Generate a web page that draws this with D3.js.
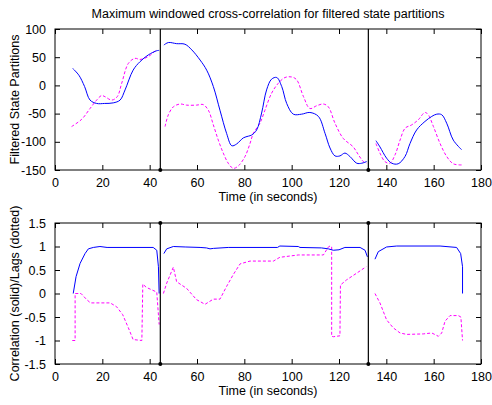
<!DOCTYPE html>
<html><head><meta charset="utf-8">
<script src="https://cdn.jsdelivr.net/npm/d3@7"></script>
<style>body{margin:0;background:#fff}svg{display:block}text{font-family:"Liberation Sans",Arial,sans-serif;font-size:12.5px;fill:#000}</style>
</head><body><svg id="c" width="492" height="405"></svg>
<script>
const title = "Maximum windowed cross-correlation for filtered state partitions";
const xLabel = "Time (in seconds)";
const yLabelTop = "Filtered State Partitions";
const yLabelBottom = "Correlation (solid)/Lags (dotted)";
const xTicks = [0,20,40,60,80,100,120,140,160,180];
const yTicksTop = [-150,-100,-50,0,50,100];
const yTicksBottom = [-1.5,-1,-0.5,0,0.5,1,1.5];
const boundaries = [44.5, 132.4];

// Top panel: filtered state partitions (solid = blue, dashed = magenta)
const topBlue = [
 [[7.5,30],[10.1,18],[12.5,-2],[14.8,-26],[17.6,-32],[21,-32],[24.6,-31],[27.5,-26],[29.6,-8],[33,27],[35.9,42],[39.4,54],[43,61.5],[44,62]],
 [[46,71.6],[47.9,76],[51.4,74],[54.9,73],[57.8,63],[61.3,45],[64.1,27],[66.9,-2],[69.7,-44],[72.5,-85],[74.7,-107],[76.7,-104],[79.6,-93],[81.7,-90],[83.1,-88],[85.2,-79],[87.3,-49],[89.4,-8],[91.5,11],[93.7,14],[95.8,-2],[97.9,-32],[100.7,-51],[104.2,-51],[107.7,-48],[111.3,-55],[114.1,-85],[116.2,-111],[118.3,-125],[120.4,-125],[122.5,-120],[124.6,-126],[127.5,-138],[129.6,-138],[131.7,-135]],
 [[135.6,-98],[137.3,-109],[140.1,-129],[142.3,-138],[145,-139],[147.9,-126],[150,-103],[152.8,-79],[156.3,-64],[159.2,-55],[161.3,-51],[163.4,-52],[165.5,-67],[168.3,-97],[171.8,-114]]
];
const topMagenta = [
 [[7,-73],[11.3,-60],[14.8,-41],[17.6,-26],[19.7,-18],[21.1,-20],[24,-26],[26.3,-20],[28.2,4],[31,39],[33.8,48],[35.9,46],[39.4,51],[43,64]],
 [[46.5,-73],[47.9,-52],[50,-38],[52.8,-33],[55.6,-35],[59.8,-35],[62.6,-34],[64.8,-44],[66.9,-70],[69,-97],[71.1,-120],[73.2,-138],[75.3,-147],[77.4,-143],[80.3,-126],[82.4,-103],[83.8,-85],[86.6,-67],[88.7,-44],[91.5,-14],[94.4,4],[97.2,14],[100,15],[102.1,10],[105,-20],[107.7,-41],[110.6,-36],[113.4,-33],[115.5,-38],[118.3,-67],[121.8,-94],[126,-109],[128.2,-123],[130.3,-135],[131.7,-138]],
 [[135.6,-103],[137.3,-120],[139.4,-135],[141.5,-138],[143.7,-123],[145.8,-97],[147.9,-76],[150.7,-70],[153.5,-61],[156.3,-48],[157.7,-52],[159.9,-73],[162.7,-103],[165.5,-126],[168.3,-139],[171.8,-141]]
];

// Bottom panel: correlation (solid) and lags (dotted)
const botBlue = [
 [[7.7,0],[8.9,0.36],[10.6,0.64],[12.7,0.85],[14.1,0.95],[16.2,0.98],[19,1.0],[22,0.98],[41.5,0.98],[43,0.92],[43.7,0.57],[44,0]],
 [[46,0.85],[47.2,0.95],[50,1.0],[55,0.99],[61.3,0.98],[64,0.97],[65.5,0.95],[67,0.96],[73.2,0.98],[94,0.98],[95,1.01],[102.8,1.0],[103.5,0.98],[112.6,0.97],[115.5,0.95],[117.6,0.92],[120,0.93],[122.5,0.98],[128.9,0.98],[131,0.92],[132,0.78]],
 [[135.2,0.73],[136.6,0.89],[140.1,0.99],[144.4,1.01],[162.7,1.01],[169.7,0.98],[171.4,0.85],[172.2,0.57],[172.2,0]]
];
const botMagenta = [
 [[7.3,-1],[8.5,-1],[8.5,0],[11,0],[13.4,-0.13],[15,-0.2],[23.3,-0.2],[26,-0.28],[28.6,-0.45],[31,-0.73],[33,-0.98],[36.7,-1],[37.1,0.2],[38.6,0.13],[43,0.03],[44,-0.66]],
 [[45.8,0],[47.2,0.22],[50,0.56],[51.4,0.25],[55.6,0.11],[59.8,-0.13],[63.4,-0.23],[66.9,-0.12],[69.7,-0.12],[72.5,0.15],[75.3,0.4],[78.2,0.63],[82.4,0.69],[92.3,0.69],[95,0.77],[102.8,0.82],[113.4,0.82],[115.5,0.99],[116.2,1.01],[116.9,1.0],[116.9,-0.91],[117.6,-0.92],[120.4,-0.9],[120.6,0.18],[123.2,0.29],[127.4,0.43],[131.5,0.57]],
 [[135.2,0],[137.3,-0.2],[140.1,-0.56],[142.9,-0.73],[145.8,-0.84],[148.6,-0.87],[155.6,-0.86],[159.2,-0.84],[162,-0.91],[163.4,-0.84],[164.8,-0.59],[166.9,-0.47],[170.4,-0.47],[171.5,-0.5],[172.2,-1.0]]
];

const svg = d3.select("#c");
const L = 55, R = 481;
const x = d3.scaleLinear().domain([0,180]).range([L,R]);

function panel(top, bottom, yDomain, yTicks, yLabel, blue, magenta, dotsTop, curve) {
  const y = d3.scaleLinear().domain(yDomain).range([bottom, top]);
  const g = svg.append("g");
  const line = d3.line().x(d=>x(d[0])).y(d=>y(d[1])).curve(curve);
  magenta.forEach(s => g.append("path").attr("d", line(s)).attr("fill","none")
    .attr("stroke","#ff00ff").attr("stroke-width",1).attr("stroke-dasharray","3,2"));
  blue.forEach(s => g.append("path").attr("d", line(s)).attr("fill","none")
    .attr("stroke","#0000ff").attr("stroke-width",1));
  const ax = g.append("g").attr("transform",`translate(0,${bottom})`)
    .call(d3.axisBottom(x).tickValues(xTicks).tickSize(-5).tickPadding(8).tickFormat(d3.format("d")));
  const axT = g.append("g").attr("transform",`translate(0,${top})`)
    .call(d3.axisTop(x).tickValues(xTicks).tickSize(-5).tickFormat(""));
  const ay = g.append("g").attr("transform",`translate(${L},0)`)
    .call(d3.axisLeft(y).tickValues(yTicks).tickSize(-5).tickPadding(9).tickFormat(d=>String(d)));
  const ayR = g.append("g").attr("transform",`translate(${R},0)`)
    .call(d3.axisRight(y).tickValues(yTicks).tickSize(-5).tickFormat(""));
  [ax,axT,ay,ayR].forEach(a=>{a.selectAll("path,line").attr("stroke","#000");
    a.selectAll("text").style("font-size","12.5px").attr("fill","#000");
    a.select(".domain").attr("d", null);});
  g.append("rect").attr("x",L).attr("y",top).attr("width",R-L).attr("height",bottom-top)
    .attr("fill","none").attr("stroke","#000");
  boundaries.forEach(b=>{
    g.append("line").attr("x1",x(b)).attr("x2",x(b)).attr("y1",top).attr("y2",bottom)
      .attr("stroke","#000").attr("stroke-width",1.2);
    g.append("circle").attr("cx",x(b)).attr("cy",bottom).attr("r",2).attr("fill","#000");
    if (dotsTop) g.append("circle").attr("cx",x(b)).attr("cy",top).attr("r",2).attr("fill","#000");
  });
  g.append("text").attr("x",(L+R)/2).attr("y",bottom+31).attr("text-anchor","middle").text(xLabel);
  g.append("text").attr("transform",`translate(19,${(top+bottom)/2}) rotate(-90)`)
    .attr("text-anchor","middle").text(yLabel);
}

svg.append("text").attr("x",(L+R)/2).attr("y",18).attr("text-anchor","middle").text(title);
panel(29, 170, [-150,100], yTicksTop, yLabelTop, topBlue, topMagenta, false, d3.curveCatmullRom.alpha(0.5));
panel(223, 364, [-1.5,1.5], yTicksBottom, yLabelBottom, botBlue, botMagenta, true, d3.curveLinear);
</script></body></html>
